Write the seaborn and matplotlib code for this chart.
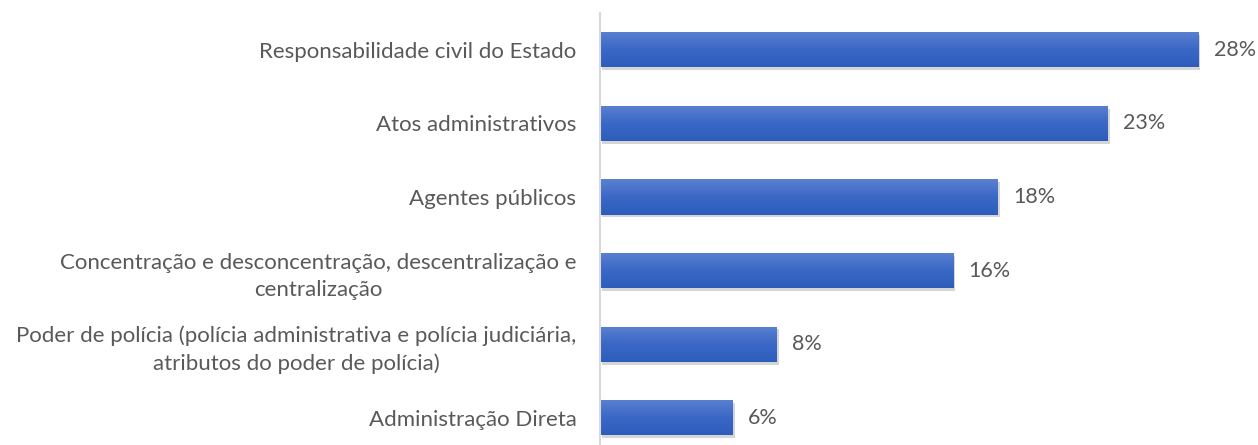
import matplotlib
matplotlib.use("Agg")
import matplotlib.pyplot as plt
import matplotlib.patheffects as pe
import numpy as np
import pandas as pd
import seaborn as sns
from matplotlib.colors import LinearSegmentedColormap

categories = [
    "Responsabilidade civil do Estado",
    "Atos administrativos",
    "Agentes públicos",
    "Concentração e desconcentração, descentralização e\ncentralização",
    "Poder de polícia (polícia administrativa e polícia judiciária,\natributos do poder de polícia)",
    "Administração Direta",
]
shares = [27.1, 23.0, 18.0, 16.0, 8.0, 6.0]
value_labels = ["28%", "23%", "18%", "16%", "8%", "6%"]

df = pd.DataFrame({"topic": categories, "share": shares})

sns.set_style("white")
plt.rcParams["font.family"] = ["Lato", "DejaVu Sans"]

fig = plt.figure(figsize=(12.58, 4.45), dpi=100)
ax = fig.add_axes([600 / 1258, 0.0, 658 / 1258, 432 / 445])

sns.barplot(data=df, x="share", y="topic", orient="h", color="#3d69c7",
            width=0.48, ax=ax, saturation=1)

# vertical light-to-dark fill plus a soft drop shadow, like the original
grad = LinearSegmentedColormap.from_list("bar", ["#5b80d0", "#3a68c6", "#2d5dbb"])
for patch in ax.patches:
    patch.set_edgecolor("none")
    patch.set_path_effects([pe.SimplePatchShadow(offset=(1.5, -2), alpha=0.22, shadow_rgbFace="#404040"),
                            pe.Normal()])
    x0, y0 = patch.get_x(), patch.get_y()
    w, h = patch.get_width(), patch.get_height()
    img = ax.imshow(np.linspace(0, 1, 64).reshape(-1, 1), cmap=grad, aspect="auto",
                    extent=(x0, x0 + w, y0 + h, y0), origin="upper", zorder=patch.get_zorder() + 0.1)
    img.set_clip_path(patch)

for patch, lab in zip(ax.patches, value_labels):
    ax.text(patch.get_width() + 0.7, patch.get_y() + patch.get_height() / 2, lab,
            va="center", ha="left", fontsize=15.5, color="#595959")

ax.set_xlim(0, 29.8)
ax.set_ylim(5.37, -0.5)
ax.set_xlabel("")
ax.set_ylabel("")
ax.set_xticks([])
ax.tick_params(axis="y", length=0, pad=17, labelsize=16, labelcolor="#595959")
for t in ax.get_yticklabels():
    t.set_multialignment("center")
    t.set_linespacing(1.45)
for side in ["top", "right", "bottom"]:
    ax.spines[side].set_visible(False)
ax.spines["left"].set_color("#d9d9d9")
ax.spines["left"].set_linewidth(1.5)

fig.savefig("out.png", dpi=100)
